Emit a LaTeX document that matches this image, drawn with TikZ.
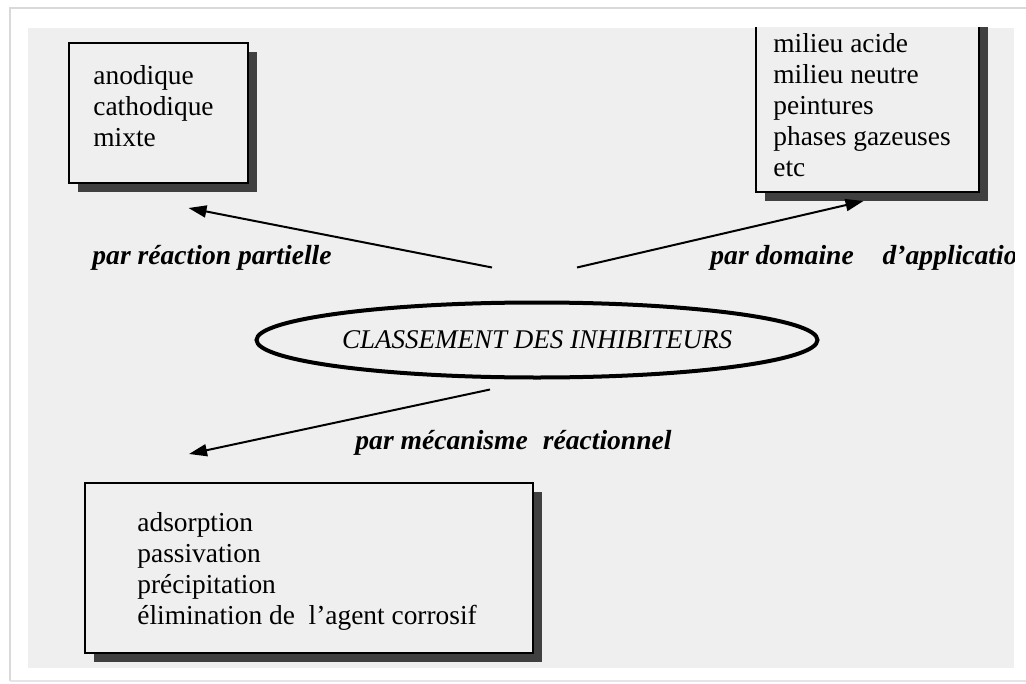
\documentclass[tikz,border=0pt]{standalone}
\usepackage{fontspec}
\setmainfont{Liberation Serif}
\usetikzlibrary{arrows.meta,shapes.geometric,shadows}
\definecolor{panelgrey}{HTML}{EFEFEF}
\begin{document}
\begin{tikzpicture}[x=0.5pt, y=-0.5pt,
  box/.style={draw, line width=1pt, fill=panelgrey, inner sep=0pt,
    drop shadow={shadow xshift=4.5pt, shadow yshift=-4.5pt, fill=black!75, opacity=1}},
  items/.style={anchor=north west, inner sep=0pt, align=left,
    font=\fontsize{13.7}{15.5}\selectfont},
  tag/.style={inner sep=0pt, font=\fontsize{13.8}{16}\selectfont\bfseries\itshape},
  arr/.style={line width=1pt, -{Triangle[length=9pt, width=6pt]}}]
\useasboundingbox (0,0) rectangle (1026,684);
\draw[gray!30, line width=0.6pt] (10,681) -- (10,8) -- (1026,8);
\draw[gray!20, line width=0.6pt] (10,681) -- (1026,681);
\fill[panelgrey] (28,28) rectangle (1014,668);
\begin{scope}
\clip (28,28) rectangle (1014,668);
% three boxes
\node[box, minimum width=89.5pt, minimum height=70pt] (partielle) at (158.5,113) {};
\node[box, minimum width=111.5pt, minimum height=91pt] (domaine) at (867.5,101) {};
\node[box, minimum width=224pt, minimum height=85pt] (mecanisme) at (309,568) {};
\node[items] (l-partielle) at (93,65.5) {anodique\\ cathodique\\ mixte};
\node[items] (l-domaine) at (773,33.5) {milieu acide\\ milieu neutre\\ peintures\\ phases gazeuses\\ etc};
\node[items] (l-mecanisme) at (137,512.5) {adsorption\\ passivation\\ précipitation\\ élimination de\ \ l'agent corrosif};
% centre
\node[draw, ellipse, line width=2pt, minimum width=280.5pt, minimum height=37.5pt, inner sep=0pt,
  font=\fontsize{13.5}{16}\selectfont\itshape] (classement) at (537,340) {CLASSEMENT DES INHIBITEURS\hspace{6pt}};
% labels
\node[tag, anchor=base west] (t-partielle) at (92,264) {par réaction partielle};
\node[tag, anchor=base west] (t-domaine) at (710,264) {par domaine\hspace{11pt} d'applicatio};
\node[tag, anchor=base east] (t-mecanisme) at (672,449) {par mécanisme\hspace{4pt} réactionnel};
% arrows
\draw[arr] ([shift={(-45,-33)}]classement.north) -- ([shift={(30,24)}]partielle.south);
\draw[arr] ([shift={(40,-33)}]classement.north) -- ([shift={(-4,8)}]domaine.south);
\draw[arr] ([shift={(-47,10)}]classement.south) -- ([shift={(-120,-28)}]mecanisme.north);
\end{scope}
\end{tikzpicture}
\end{document}
